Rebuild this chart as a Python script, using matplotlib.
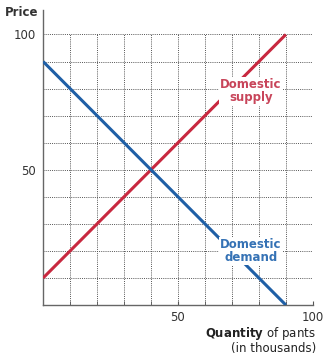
import numpy as np
import matplotlib.pyplot as plt

# data
qty = [0, 90]
supply_price = [10, 100]
demand_price = [90, 0]
x_ticks = [50, 100]
y_ticks = [50, 100]
grid_pos = list(range(10, 101, 10))

red = '#c8283f'
blue = '#1f5fa6'

fig = plt.figure(figsize=(3.29, 3.61), dpi=100)
# axis reaches a bit above 100 so the left spine runs up to the "Price" label
ax = fig.add_axes([0.131, 0.155, 0.82, 0.817])

# dotted grid
ax.vlines(grid_pos, 0, 100, color='#555555', lw=0.7, ls=(0, (1, 1.2)), zorder=1)
ax.hlines(grid_pos, 0, 100, color='#555555', lw=0.7, ls=(0, (1, 1.2)), zorder=1)

ax.plot(qty, supply_price, color=red, lw=2.2, zorder=3, solid_capstyle='butt')
ax.plot(qty, demand_price, color=blue, lw=2.2, zorder=3, solid_capstyle='butt')

ax.set_xlim(0, 100)
ax.set_ylim(0, 109)
for s in ['top', 'right']:
	ax.spines[s].set_visible(False)
for s in ['left', 'bottom']:
	ax.spines[s].set_color('#666666')
	ax.spines[s].set_linewidth(1.0)

ax.set_xticks(x_ticks)
ax.set_yticks(y_ticks)
ax.set_xticks(grid_pos, minor=True)
ax.tick_params(axis='x', which='both', direction='in', length=3, color='#555555',
	labelsize=8.5, labelcolor='#333333', pad=4)
ax.tick_params(axis='y', which='both', length=0, labelsize=8.5, labelcolor='#333333', pad=5)

ax.text(77, 79, 'Domestic\nsupply', color='#c8455a', fontsize=8.5, fontweight='bold',
	ha='center', va='center', linespacing=1.0, zorder=4,
	bbox=dict(facecolor='white', edgecolor='none', pad=1))
ax.text(77, 20, 'Domestic\ndemand', color='#3572b5', fontsize=8.5, fontweight='bold',
	ha='center', va='center', linespacing=1.0, zorder=4,
	bbox=dict(facecolor='white', edgecolor='none', pad=1))

fig.text(0.065, 0.965, 'Price', fontsize=8.5, fontweight='bold', color='#333333',
	ha='center', va='center')
fig.text(0.96, 0.077, r'$\mathbf{Quantity}$ of pants', fontsize=8.5, color='#222222',
	ha='right', va='center')
fig.text(0.96, 0.036, '(in thousands)', fontsize=8.5, color='#222222', ha='right', va='center')

fig.savefig('out.png', dpi=100)
